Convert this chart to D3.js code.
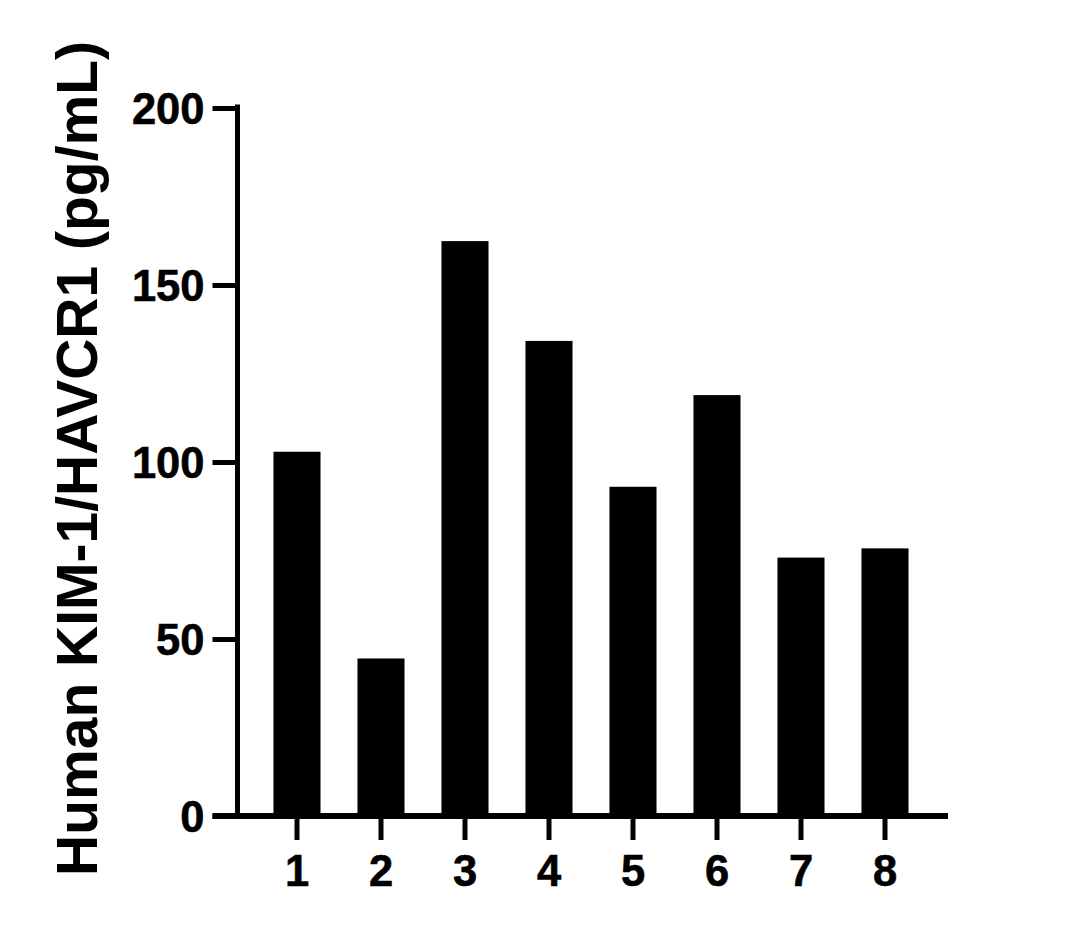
<!DOCTYPE html>
<html>
<head>
<meta charset="utf-8">
<script src="https://cdn.jsdelivr.net/npm/d3@7"></script>
<style>
  html, body { margin: 0; padding: 0; background: #fff; }
  svg { display: block; }
  text { font-family: "Liberation Sans", Arial, sans-serif; font-weight: bold; fill: #000; }
</style>
</head>
<body>
<svg id="chart" width="1084" height="932"></svg>
<script>
const categories = ["1", "2", "3", "4", "5", "6", "7", "8"];
const values = [102.9, 44.5, 162.4, 134.2, 93.0, 118.9, 73.0, 75.6];
const yTicks = [0, 50, 100, 150, 200];
const yLabel = "Human KIM-1/HAVCR1 (pg/mL)";

const svg = d3.select("#chart");

const y = d3.scaleLinear().domain([0, 200]).range([816, 108]);
const x = d3.scaleBand().domain(categories).range([255, 927])
  .paddingInner(0.44).paddingOuter(0.22);

const axisX0 = 237.5;   // y-axis position
const lw = 5;

// bars
svg.append("g").selectAll("rect").data(values).join("rect")
  .attr("x", (d, i) => x(categories[i]))
  .attr("width", x.bandwidth())
  .attr("y", d => y(d))
  .attr("height", d => y(0) - y(d))
  .attr("fill", "#000");

// y axis
const yAxis = d3.axisLeft(y).tickValues(yTicks).tickSize(25).tickSizeOuter(0).tickPadding(8);
const gy = svg.append("g").attr("transform", `translate(${axisX0},0)`).call(yAxis);
gy.select(".domain").remove();
gy.selectAll(".tick line").attr("stroke", "#000").attr("stroke-width", lw);
gy.selectAll(".tick text").style("font-size", "43.5px").style("stroke", "#000").style("stroke-width", "0.6px").attr("dy", "0.36em");
gy.append("line")
  .attr("x1", 0).attr("x2", 0)
  .attr("y1", y(0)).attr("y2", y(200) - lw / 2 - 1)
  .attr("stroke", "#000").attr("stroke-width", lw);

// x axis
const xAxis = d3.axisBottom(x).tickSize(24).tickSizeOuter(0).tickPadding(15);
const gx = svg.append("g").attr("transform", `translate(0,${y(0)})`).call(xAxis);
gx.select(".domain").remove();
gx.selectAll(".tick line").attr("stroke", "#000").attr("stroke-width", lw);
gx.selectAll(".tick text").style("font-size", "43.5px").style("stroke", "#000").style("stroke-width", "0.6px").attr("dy", "0.72em");
gx.append("line")
  .attr("x1", axisX0 - 25).attr("x2", 948)
  .attr("y1", 0).attr("y2", 0)
  .attr("stroke", "#000").attr("stroke-width", lw + 1);

// y label
svg.append("text")
  .attr("transform", `translate(97,${(42 + 875) / 2}) rotate(-90)`)
  .attr("text-anchor", "middle")
  .style("font-size", "57px")
  .text(yLabel);
</script>
</body>
</html>
